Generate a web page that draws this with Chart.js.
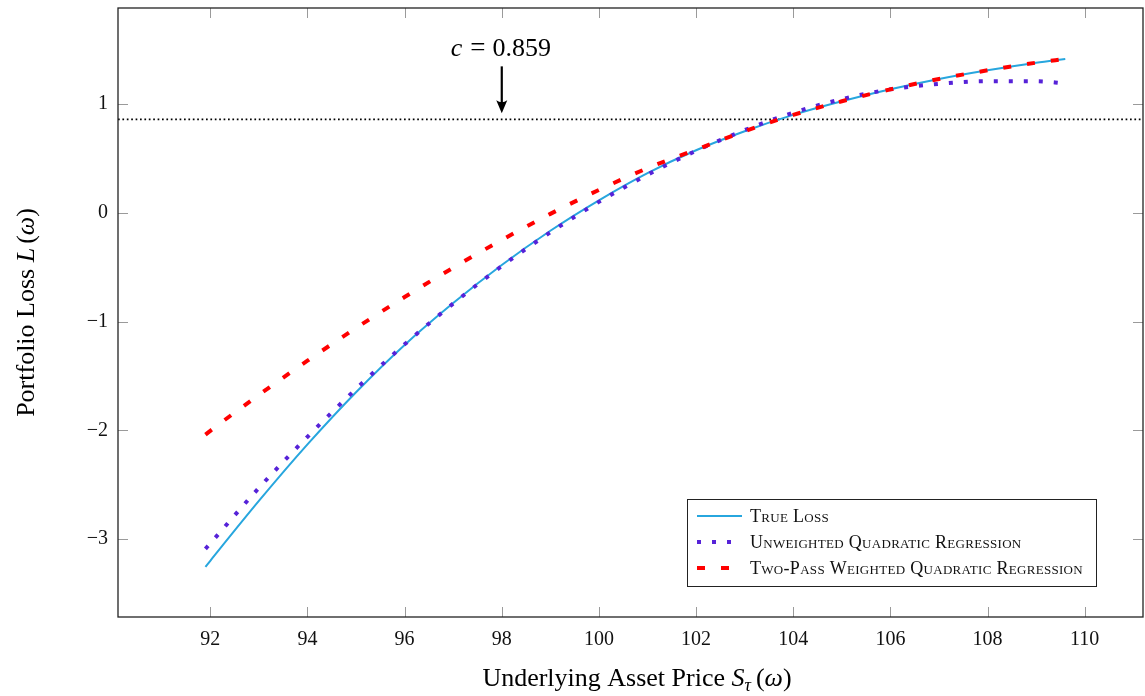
<!DOCTYPE html>
<html>
<head>
<meta charset="utf-8">
<script src="https://cdn.jsdelivr.net/npm/chart.js@4.4.1/dist/chart.umd.min.js"></script>
<style>
  body { margin: 0; background: #fff; }
  #wrap { width: 1145px; height: 696px; }
</style>
</head>
<body>
<div id="wrap"><canvas id="myChart" width="1145" height="696"></canvas></div>
<script>
// underlying asset price grid S_tau(omega)
var prices = [91.9, 92, 93, 94, 95, 96, 97, 98, 99, 100, 101, 102, 103, 104, 105, 106, 107, 108, 109, 109.6];
// portfolio loss L(omega)
var trueLoss = [-3.256, -3.20, -2.65, -2.13, -1.65, -1.215, -0.83, -0.48, -0.165, 0.115, 0.365, 0.575, 0.75, 0.90, 1.025, 1.135, 1.23, 1.31, 1.38, 1.415];
var unweighted = [-3.09, -3.04, -2.53, -2.06, -1.62, -1.21, -0.835, -0.49, -0.18, 0.10, 0.35, 0.57, 0.76, 0.92, 1.045, 1.135, 1.185, 1.21, 1.21, 1.19];
var twoPass = [-2.04, -2.005, -1.675, -1.36, -1.06, -0.775, -0.505, -0.25, -0.01, 0.21, 0.41, 0.58, 0.75, 0.90, 1.025, 1.135, 1.23, 1.31, 1.38, 1.415];

var xTicks = [92, 94, 96, 98, 100, 102, 104, 106, 108, 110];
var yTicks = [-3, -2, -1, 0, 1];
var cValue = 0.859;
var cArrowAt = 98;
var xMin = 90.1, xMax = 111.2;
var yMin = -3.717, yMax = 1.883;

var serif = '"Liberation Serif", "Times New Roman", serif';

function toPoints(ys) {
    return prices.map(function(p, i) { return {x: p, y: ys[i]}; });
}

function minus(v) {
    return String(v).replace('-', '\u2212');
}

// draws a run of text pieces with mixed italic / size / baseline shift
function drawParts(ctx, parts, x, y, align) {
    var total = 0;
    parts.forEach(function(p) {
        ctx.font = (p.italic ? 'italic ' : '') + p.size + 'px ' + serif;
        p.w = ctx.measureText(p.text).width;
        total += p.w + (p.gap || 0);
    });
    var cx = align === 'center' ? x - total / 2 : x;
    ctx.textAlign = 'left';
    ctx.textBaseline = 'alphabetic';
    parts.forEach(function(p) {
        ctx.font = (p.italic ? 'italic ' : '') + p.size + 'px ' + serif;
        ctx.fillText(p.text, cx, y + (p.dy || 0));
        cx += p.w + (p.gap || 0);
    });
}

var decorPlugin = {
    id: 'decor',
    afterDraw: function(chart) {
        var ctx = chart.ctx;
        var area = chart.chartArea;
        var xs = chart.scales.x, ys = chart.scales.y;
        ctx.save();

        // inward ticks on all four sides
        ctx.strokeStyle = '#9a9a9a';
        ctx.lineWidth = 1;
        ctx.beginPath();
        xTicks.forEach(function(v) {
            var px = Math.round(xs.getPixelForValue(v)) + 0.5;
            ctx.moveTo(px, area.bottom); ctx.lineTo(px, area.bottom - 10);
            ctx.moveTo(px, area.top); ctx.lineTo(px, area.top + 10);
        });
        yTicks.forEach(function(v) {
            var py = Math.round(ys.getPixelForValue(v)) + 0.5;
            ctx.moveTo(area.left, py); ctx.lineTo(area.left + 10, py);
            ctx.moveTo(area.right, py); ctx.lineTo(area.right - 10, py);
        });
        ctx.stroke();

        // frame
        ctx.strokeStyle = '#222';
        ctx.lineWidth = 1.3;
        ctx.strokeRect(area.left, area.top, area.right - area.left, area.bottom - area.top);

        // c annotation with arrow
        var ax = xs.getPixelForValue(cArrowAt);
        var tipY = ys.getPixelForValue(cValue) - 6;
        var topY = tipY - 47;
        ctx.strokeStyle = '#000';
        ctx.fillStyle = '#000';
        ctx.lineWidth = 2.2;
        ctx.beginPath();
        ctx.moveTo(ax, topY);
        ctx.lineTo(ax, tipY - 8);
        ctx.stroke();
        ctx.beginPath();
        ctx.moveTo(ax, tipY);
        ctx.lineTo(ax - 5.5, tipY - 13);
        ctx.quadraticCurveTo(ax, tipY - 9, ax + 5.5, tipY - 13);
        ctx.closePath();
        ctx.fill();
        drawParts(ctx, [
            {text: 'c', italic: true, size: 26, gap: 8},
            {text: '=', size: 27, gap: 7},
            {text: String(cValue), size: 26}
        ], ax - 1, topY - 10, 'center');

        // axis titles
        drawParts(ctx, [
            {text: 'Underlying Asset Price ', size: 26},
            {text: 'S', italic: true, size: 26},
            {text: '\u03c4', italic: true, size: 18, dy: 5, gap: 5},
            {text: '(', size: 26},
            {text: '\u03c9', italic: true, size: 26},
            {text: ')', size: 26}
        ], 637, 686, 'center');

        ctx.save();
        ctx.translate(34, (area.top + area.bottom) / 2);
        ctx.rotate(-Math.PI / 2);
        drawParts(ctx, [
            {text: 'Portfolio Loss ', size: 26},
            {text: 'L', italic: true, size: 26, gap: 4},
            {text: '(', size: 26},
            {text: '\u03c9', italic: true, size: 26},
            {text: ')', size: 26}
        ], 0, 0, 'center');
        ctx.restore();

        // legend box
        var lx = 687, ly = 499, lw = 409, lh = 87;
        ctx.fillStyle = '#fff';
        ctx.fillRect(lx, ly, lw, lh);
        ctx.strokeStyle = '#222';
        ctx.lineWidth = 1;
        ctx.strokeRect(lx + 0.5, ly + 0.5, lw, lh);
        var rows = [516, 542, 568];
        for (var i = 0; i < 3; i++) {
            var ds = chart.data.datasets[i];
            ctx.save();
            ctx.strokeStyle = ds.borderColor;
            ctx.lineWidth = ds.borderWidth;
            ctx.setLineDash(ds.borderDash || []);
            ctx.lineCap = 'butt';
            ctx.beginPath();
            ctx.moveTo(697, rows[i]);
            ctx.lineTo(742, rows[i]);
            ctx.stroke();
            ctx.restore();
            ctx.save();
            ctx.fillStyle = '#111';
            ctx.font = 'small-caps 18px ' + serif;
            if ('fontVariantCaps' in ctx) ctx.fontVariantCaps = 'small-caps';
            if ('letterSpacing' in ctx) ctx.letterSpacing = '0.3px';
            ctx.textAlign = 'left';
            ctx.textBaseline = 'middle';
            ctx.fillText(ds.label, 750, rows[i] + 1);
            ctx.restore();
        }
        ctx.restore();
    }
};

var ctx = document.getElementById('myChart');
var myChart = new Chart(ctx, {
    type: 'line',
    data: {
        datasets: [{
            label: 'True Loss',
            data: toPoints(trueLoss),
            borderColor: '#27a6de',
            borderWidth: 2,
            order: 3
        }, {
            label: 'Unweighted Quadratic Regression',
            data: toPoints(unweighted),
            borderColor: '#5622d8',
            borderWidth: 4,
            borderDash: [4, 11],
            order: 2
        }, {
            label: 'Two-Pass Weighted Quadratic Regression',
            data: toPoints(twoPass),
            borderColor: '#ff0000',
            borderWidth: 4,
            borderDash: [8, 16],
            order: 1
        }, {
            label: 'c',
            data: [{x: xMin, y: cValue}, {x: xMax, y: cValue}],
            borderColor: '#000',
            borderWidth: 1.7,
            borderDash: [1.7, 2.7],
            order: 4
        }]
    },
    options: {
        responsive: false,
        animation: false,
        layout: { padding: { left: 0, right: 2, top: 8, bottom: 0 } },
        elements: {
            point: { radius: 0 },
            line: { cubicInterpolationMode: 'monotone', fill: false, borderCapStyle: 'butt' }
        },
        plugins: {
            legend: { display: false },
            tooltip: { enabled: false }
        },
        scales: {
            x: {
                type: 'linear',
                min: xMin,
                max: xMax,
                afterBuildTicks: function(scale) {
                    scale.ticks = xTicks.map(function(v) { return {value: v}; });
                },
                afterFit: function(scale) {
                    scale.height = 79;
                    scale.paddingLeft = 0;
                    scale.paddingRight = 0;
                },
                grid: { display: false, drawTicks: false },
                border: { display: false },
                ticks: {
                    padding: 11,
                    maxRotation: 0,
                    color: '#111',
                    font: { family: serif, size: 20 },
                    callback: function(v) { return minus(v); }
                }
            },
            y: {
                type: 'linear',
                min: yMin,
                max: yMax,
                afterBuildTicks: function(scale) {
                    scale.ticks = yTicks.map(function(v) { return {value: v}; });
                },
                afterFit: function(scale) {
                    scale.width = 118;
                    scale.paddingTop = 0;
                    scale.paddingBottom = 0;
                },
                grid: { display: false, drawTicks: false },
                border: { display: false },
                ticks: {
                    padding: 10,
                    color: '#111',
                    font: { family: serif, size: 20 },
                    callback: function(v) { return minus(v); }
                }
            }
        }
    },
    plugins: [decorPlugin]
});
</script>
</body>
</html>
